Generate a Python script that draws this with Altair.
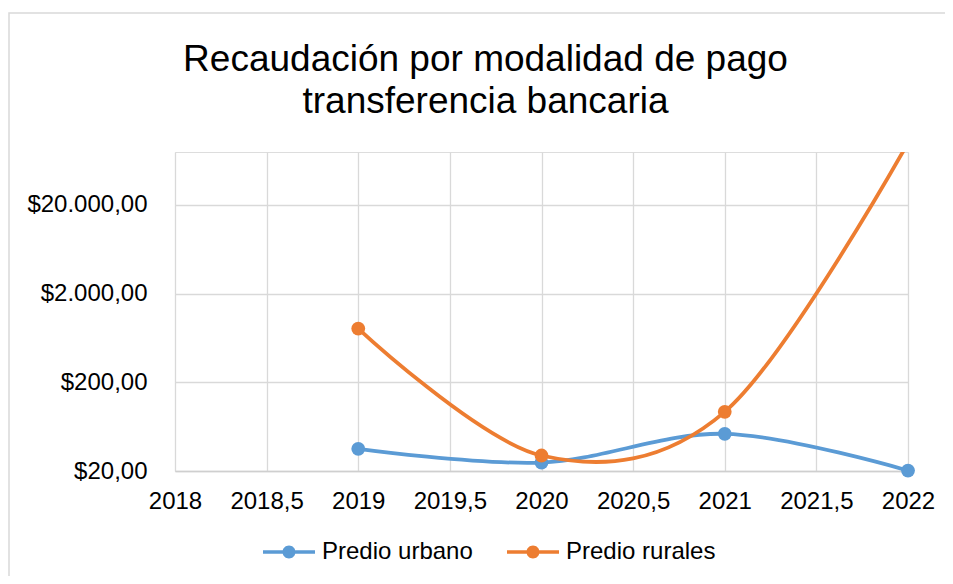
import altair as alt
import pandas as pd

years = [2019, 2020, 2021, 2022]
urbano = [35.6, 24.9, 52.5, 20.2]
rurales = [805, 29.9, 92.8, 100000]
series = ["Predio urbano", "Predio rurales"]
colors = ["#5B9BD5", "#ED7D31"]
y_ticks = [20, 200, 2000, 20000]
y_domain = [20, 78700]
x_ticks = [2018, 2018.5, 2019, 2019.5, 2020, 2020.5, 2021, 2021.5, 2022]
title_lines = ["Recaudación por modalidad de pago", "transferencia bancaria"]

rows = []
for s, vals in zip(series, [urbano, rurales]):
    for yr, v in zip(years, vals):
        rows.append({"anio": yr, "valor": v, "serie": s})
df = pd.DataFrame(rows)

FONT = "Liberation Sans"
GRID = "#D9D9D9"

x_enc = alt.X("anio:Q", scale=alt.Scale(domain=[2018, 2022], nice=False, zero=False),
              axis=alt.Axis(values=x_ticks, format=".1~f", title=None, grid=True,
                            gridColor=GRID, gridWidth=1.3, domain=True, domainColor="#CFCFCF",
                            domainWidth=1.3, ticks=False, labelFontSize=24, labelFont=FONT,
                            labelColor="#000000", labelPadding=18, labelFlush=False))
y_enc = alt.Y("valor:Q", scale=alt.Scale(type="log", domain=y_domain, nice=False),
              axis=alt.Axis(values=y_ticks, format="$,.2f", title=None, grid=True,
                            gridColor=GRID, gridWidth=1.3, domain=False, ticks=False,
                            labelFontSize=24, labelFont=FONT, labelColor="#000000",
                            labelPadding=28))

sym = ("M-1,-0.065H-0.24V0.065H-1Z M0.24,-0.065H1V0.065H0.24Z "
       "M-0.25,0A0.25,0.25,0,1,1,0.25,0A0.25,0.25,0,1,1,-0.25,0Z")

legend = alt.Legend(title=None, orient="none", legendX=88, legendY=374,
                    direction="horizontal", symbolType=sym, symbolSize=2704,
                    symbolStrokeWidth=0, labelFontSize=24, labelFont=FONT,
                    labelColor="#000000", labelOffset=7, columnPadding=34,
                    labelLimit=400)
color_enc = alt.Color("serie:N", scale=alt.Scale(domain=series, range=colors), legend=legend)

base = alt.Chart(df)

lines = base.mark_line(interpolate="cardinal", tension=0, strokeWidth=3.8, clip=True).encode(
    x=x_enc, y=y_enc, color=color_enc,
)

points = base.transform_filter(
    alt.datum.valor <= y_domain[1]
).mark_point(filled=True, size=190, opacity=1).encode(
    x=x_enc, y=y_enc, color=color_enc,
)

frame = alt.Chart(pd.DataFrame({"k": [0]})).mark_rect(
    fill=None, stroke="#D9D9D9", strokeWidth=1.5
).encode(x=alt.value(-166), x2=alt.value(800), y=alt.value(-139), y2=alt.value(500))

chart = alt.layer(frame, lines, points).properties(
    width=733, height=319,
    padding={"left": 167, "top": 144, "right": 37, "bottom": 105},
    autosize=alt.AutoSizeParams(type="none"),
    title=alt.TitleParams(title_lines, fontSize=37, font=FONT, fontWeight="normal",
                          color="#000000", anchor="middle", dx=-56, offset=-109,
                          lineHeight=42, frame="group"),
).configure_view(stroke=None).configure(
    locale={"number": {"decimal": ",", "thousands": ".", "grouping": [3],
                       "currency": ["$", ""]}}
)

chart.save("out.html", embed_options={"renderer": "svg", "actions": False})
